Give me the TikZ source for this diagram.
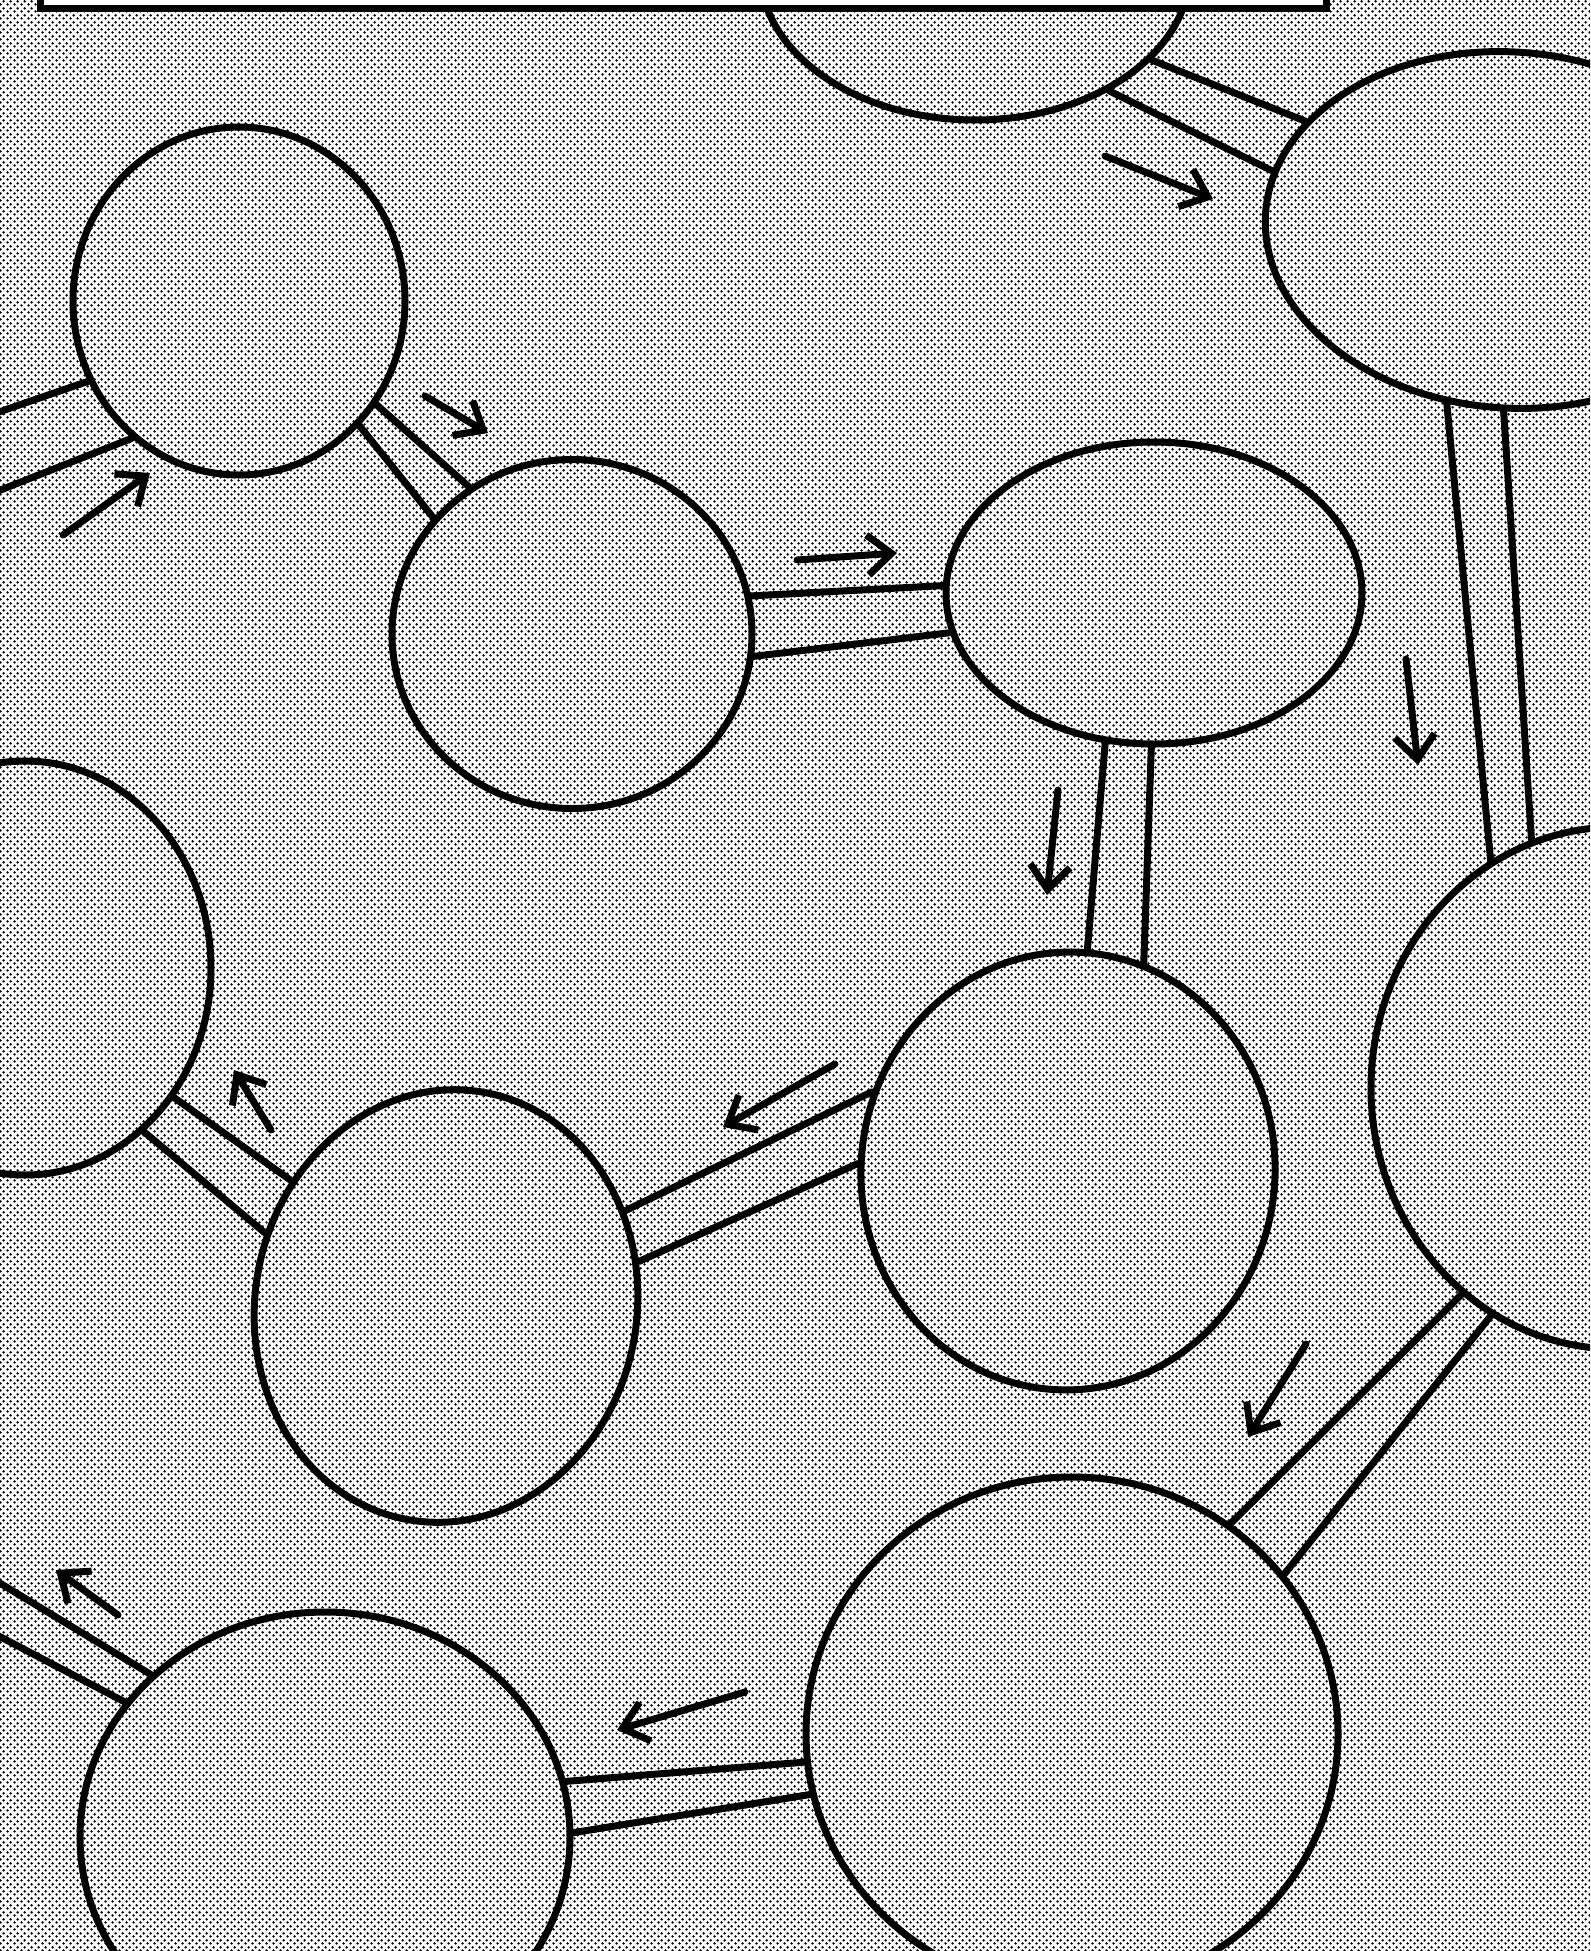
\documentclass[tikz,border=0pt]{standalone}
\usetikzlibrary{patterns.meta,shapes.geometric,arrows.meta}

\tikzdeclarepattern{
  name=halftone,
  type=uncolored,
  bottom left={(0pt,0pt)},
  top right={(7pt,7pt)},
  tile size={(7pt,7pt)},
  code={
    \fill (1.75pt,1.75pt) circle (1.5pt);
    \fill (5.25pt,5.25pt) circle (1.5pt);
  }
}

\tikzset{
  ink/.style={line width=7pt, line cap=round, line join=round, draw=black},
  blob/.style={ellipse, draw=black, line width=7pt, inner sep=0pt},
  tube/.style={ink},
  flow/.style={ink, -{Straight Barb[length=24pt,width=40pt]}},
}

\begin{document}
\begin{tikzpicture}[x=1pt,y=-1pt]
\useasboundingbox (0,0) rectangle (1590,1951);
\clip (0,0) rectangle (1590,1951);
\fill[white] (0,0) rectangle (1590,1951);
\fill[pattern=halftone, pattern color=black] (-5,-5) rectangle (1600,1960);

% blobs
\node[blob, minimum width=430pt, minimum height=300pt] (A) at (975,-30) {};
\node[blob, minimum width=490pt, minimum height=356pt, rotate=-4] (B) at (1510,230) {};
\node[blob, minimum width=332pt, minimum height=348pt] (C) at (239,301) {};
\node[blob, minimum width=360pt, minimum height=349pt] (D) at (572,634) {};
\node[blob, minimum width=416pt, minimum height=302pt] (E) at (1154,593) {};
\node[blob, minimum width=372pt, minimum height=414pt] (F) at (25,968) {};
\node[blob, minimum width=382pt, minimum height=434pt, rotate=-10] (G) at (446,1306) {};
\node[blob, minimum width=414pt, minimum height=438pt, rotate=-5] (H) at (1068,1171) {};
\node[blob, minimum width=492pt, minimum height=522pt] (I) at (1617,1088) {};
\node[blob, minimum width=532pt, minimum height=514pt] (J) at (1072,1734) {};
\node[blob, minimum width=490pt, minimum height=450pt] (K) at (325,1837) {};

% free ends off the page
\coordinate (offC1) at (-30,422);
\coordinate (offC2) at (-30,502);
\coordinate (offK1) at (-30,1565);
\coordinate (offK2) at (-30,1621);

% tubes
\draw[tube] (C.208) -- (offC1);
\draw[tube] (C.232) -- (offC2);
\draw[tube] (C.314) -- (D.140);
\draw[tube] (C.323) -- (D.125);
\draw[tube] (D.12) -- (E.178);
\draw[tube] (D.353) -- (E.191);
\draw[tube] (A.333) -- (B.156);
\draw[tube] (A.318) -- (B.170);
\draw[tube] (B.254) -- (I.119);
\draw[tube] (B.272) -- (I.109);
\draw[tube] (E.252) -- (H.90);
\draw[tube] (E.269) -- (H.75);
\draw[tube] (H.163) -- (G.38);
\draw[tube] (H.183) -- (G.23);
\draw[tube] (G.151) -- (F.319);
\draw[tube] (G.168) -- (F.306);
\draw[tube] (I.233) -- (J.53);
\draw[tube] (I.241) -- (J.37);
\draw[tube] (J.186) -- (K.13);
\draw[tube] (J.193) -- (K.1);
\draw[tube] (K.137) -- (offK1);
\draw[tube] (K.146) -- (offK2);

% flow arrows
\draw[flow] (63,535) -- (150,473);
\draw[flow] (425,396) -- (488,433);
\draw[flow] (797,560) -- (897,553);
\draw[flow] (1105,156) -- (1213,199);
\draw[flow] (1406,659) -- (1418,765);
\draw[flow] (1058,790) -- (1047,895);
\draw[flow] (835,1064) -- (723,1127);
\draw[flow] (271,1130) -- (234,1070);
\draw[flow] (1306,1344) -- (1248,1437);
\draw[flow] (745,1692) -- (617,1730);
\draw[flow] (118,1615) -- (56,1570);

% top box
\node[draw=black, fill=white, line width=7pt, minimum width=1286pt, minimum height=80pt, anchor=south west, inner sep=0pt] (box) at (37,12) {};
\end{tikzpicture}
\end{document}
